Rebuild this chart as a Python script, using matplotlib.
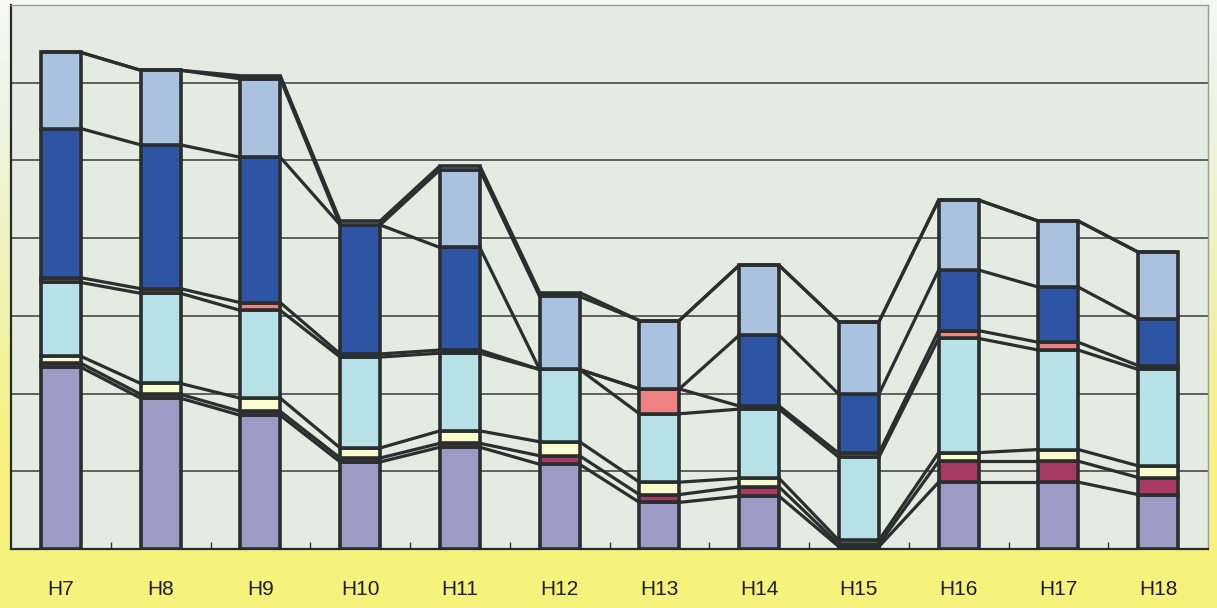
import matplotlib
matplotlib.use("Agg")
import matplotlib.pyplot as plt
from matplotlib.colors import LinearSegmentedColormap
import numpy as np

# Fiscal years (Heisei era)
categories = ["H7", "H8", "H9", "H10", "H11", "H12",
              "H13", "H14", "H15", "H16", "H17", "H18"]

# Stacked components, bottom to top
lavender   = [234, 194, 172, 112, 131, 109, 60, 68, 3, 86, 86, 70]
maroon     = [5, 5, 5, 5, 5, 11, 10, 12, 3, 27, 27, 22]
pale_yel   = [9, 14, 17, 13, 16, 18, 16, 11, 5, 11, 15, 15]
pale_cyan  = [95, 116, 113, 117, 100, 93, 88, 89, 107, 147, 128, 124]
salmon     = [6, 6, 10, 4, 4, 0, 32, 4, 5, 10, 10, 5]
dark_blue  = [192, 185, 187, 166, 132, 0, 0, 91, 76, 78, 71, 60]
light_blue = [98, 96, 101, 0, 100, 94, 88, 90, 93, 90, 85, 86]
cap        = [0, 0, 4, 5, 5, 5, 0, 0, 0, 0, 0, 0]

series = [lavender, maroon, pale_yel, pale_cyan, salmon, dark_blue, light_blue, cap]
colors = ["#9b9bc6", "#a83a62", "#fbfccb", "#b5e1e7", "#ef8282",
          "#2e54a4", "#aac2df", "#aac2df"]

edge = "#2a2e2f"
bar_w = 0.4

fig = plt.figure(figsize=(12.17, 6.08), dpi=100)
fig.patch.set_facecolor("#f7f37c")

# Soft vertical wash behind the chart: pale at the top, yellow at the foot
bg = fig.add_axes([0, 0, 1, 1], zorder=-10)
wash = LinearSegmentedColormap.from_list(
    "wash", [(0.0, "#f7f37c"), (0.25, "#f6f37e"), (0.55, "#eef3b8"),
             (0.8, "#eef4e2"), (1.0, "#f6f8f2")])
bg.imshow(np.linspace(0, 1, 256).reshape(-1, 1), cmap=wash, aspect="auto",
          origin="lower", extent=[0, 1, 0, 1])
bg.set_axis_off()

ax = fig.add_axes([11 / 1217, 1 - 549 / 608, 1197 / 1217, 544 / 608])
ax.set_facecolor("#e4ebe0")

x = np.arange(len(categories))
bottom = np.zeros(len(categories))
tops = []
for vals, col in zip(series, colors):
    v = np.array(vals, dtype=float)
    ax.bar(x, v, width=bar_w, bottom=bottom, color=col, edgecolor=edge,
           linewidth=2.6, zorder=3)
    bottom = bottom + v
    tops.append(bottom.copy())

# Series lines joining each segment top between neighbouring bars
for t in tops:
    for i in range(len(categories) - 1):
        ax.plot([x[i] + bar_w / 2, x[i + 1] - bar_w / 2], [t[i], t[i + 1]],
                color=edge, linewidth=2.3, solid_capstyle="butt", zorder=2)

ax.set_xlim(-0.5, len(categories) - 0.5)
ax.set_ylim(0, 700)

ax.set_yticks(np.arange(100, 700, 100))
ax.yaxis.grid(True, color="#3a3a3a", linewidth=1.1, zorder=1)
ax.set_axisbelow(True)
ax.tick_params(axis="y", left=False, labelleft=False)

ax.set_xticks(x)
ax.set_xticklabels(categories, fontsize=15, color="#1c1c1c",
                   family=["Liberation Sans", "DejaVu Sans"])
ax.tick_params(axis="x", length=0, pad=22)
ax.set_xticks(np.arange(0.5, len(categories) - 0.5, 1), minor=True)
ax.tick_params(axis="x", which="minor", direction="in", length=5,
               width=1.0, color="#333333")

for side in ["left", "bottom"]:
    ax.spines[side].set_color("#2a2a2a")
    ax.spines[side].set_linewidth(1.6)
for side in ["top", "right"]:
    ax.spines[side].set_color("#9a9a9a")
    ax.spines[side].set_linewidth(1.0)

fig.savefig("out.png", dpi=100)
